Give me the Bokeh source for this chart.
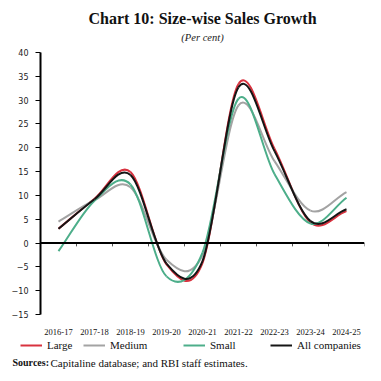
import numpy as np
from bokeh.plotting import figure
from bokeh.layouts import column
from bokeh.models import (Range1d, FactorRange, Span, Legend,
                          LegendItem, Title, Label, FixedTicker)
from bokeh.embed import file_html
from bokeh.resources import INLINE

# ---- data (per cent) ----
years = ["2016-17", "2017-18", "2018-19", "2019-20", "2020-21",
         "2021-22", "2022-23", "2023-24", "2024-25"]
large = [3.0, 9.3, 14.9, -4.5, -4.2, 33.4, 19.8, 4.3, 6.7]
medium = [4.5, 9.0, 11.7, -3.5, -2.5, 28.9, 17.2, 6.8, 10.7]
small = [-1.7, 8.9, 12.3, -7.0, -2.0, 30.3, 14.5, 4.1, 9.5]
all_companies = [3.0, 9.2, 14.3, -4.3, -3.8, 32.7, 19.3, 4.6, 7.1]
y_ticks = [-15, -10, -5, 0, 5, 10, 15, 20, 25, 30, 35, 40]

series_names = ["Large", "Medium", "Small", "All companies"]
series_values = [large, medium, small, all_companies]
series_colors = ["#D8323F", "#A3A3A3", "#4DAE8A", "#151515"]
legend_x = [20, 83, 183, 270]

W = 381
H1 = 337
H2 = 381 - H1

# ---------------- main chart ----------------
p = figure(width=W, height=H1, output_backend="svg", toolbar_location=None,
           x_range=FactorRange(factors=years), y_range=Range1d(y_ticks[0], y_ticks[-1]),
           min_border_left=40, min_border_right=17,
           min_border_top=52, min_border_bottom=H1 - 316,
           title="Chart 10: Size-wise Sales Growth")
p.frame_align = False
p.outline_line_color = None
p.grid.visible = False
p.background_fill_color = "white"
p.border_fill_color = "white"

p.title.align = "center"
p.title.text_font = "Liberation Serif"
p.title.text_font_style = "bold"
p.title.text_font_size = "16px"
p.title.text_color = "#111"
p.title.standoff = -12
p.add_layout(Title(text="(Per cent)", align="center", text_font="Liberation Serif",
                   text_font_style="italic", text_font_size="10.5px",
                   text_color="#222", standoff=19), "above")

# y axis
ya = p.yaxis[0]
ya.ticker = FixedTicker(ticks=y_ticks)
ya.axis_line_width = 2
ya.axis_line_color = "black"
ya.major_tick_out = 5
ya.major_tick_in = 0
ya.minor_tick_out = 0
ya.minor_tick_in = 0
ya.major_tick_line_color = "black"
ya.major_label_standoff = 7
ya.major_label_text_font = "DejaVu Sans"
ya.major_label_text_font_size = "8px"
ya.major_label_text_color = "#222"

# categorical x axis: labels only
xa = p.xaxis[0]
xa.axis_line_color = None
xa.major_tick_line_color = None
xa.major_tick_out = 0
xa.major_tick_in = 0
xa.major_label_standoff = 14
xa.major_label_text_font = "Liberation Serif"
xa.major_label_text_font_size = "8.5px"
xa.major_label_text_color = "#111"

# zero line and category separator ticks on it
p.add_layout(Span(location=0, dimension="width", line_color="black", line_width=2))
bounds = list(range(1, len(years) + 1))
p.segment(x0=bounds, y0=[0] * len(bounds), x1=bounds, y1=[-0.7] * len(bounds),
          line_color="#555", line_width=1)


def smooth_segments(vals):
    n = len(vals)
    xs = [i + 0.5 for i in range(n)]
    m = []
    for i in range(n):
        if i == 0:
            m.append(vals[1] - vals[0])
        elif i == n - 1:
            m.append(vals[-1] - vals[-2])
        else:
            m.append((vals[i + 1] - vals[i - 1]) / 2)
    return dict(
        x0=xs[:-1], y0=vals[:-1], x1=xs[1:], y1=vals[1:],
        cx0=[x + 1 / 3 for x in xs[:-1]],
        cy0=[v + mm / 3 for v, mm in zip(vals[:-1], m[:-1])],
        cx1=[x - 1 / 3 for x in xs[1:]],
        cy1=[v - mm / 3 for v, mm in zip(vals[1:], m[1:])],
    )


for name, vals, col in zip(series_names, series_values, series_colors):
    p.bezier(source=smooth_segments(vals), x0="x0", y0="y0", x1="x1", y1="y1",
             cx0="cx0", cy0="cy0", cx1="cx1", cy1="cy1",
             line_color=col, line_width=2)

# ---------------- legend + source strip ----------------
p2 = figure(width=W, height=H2, output_backend="svg", toolbar_location=None,
            x_range=Range1d(0, W), y_range=Range1d(0, H2),
            min_border_left=0, min_border_right=0, min_border_top=0,
            min_border_bottom=0, x_axis_location=None, y_axis_location=None)
p2.frame_align = False
p2.outline_line_color = None
p2.grid.visible = False
p2.background_fill_color = "white"
p2.border_fill_color = "white"

for name, col, lx in zip(series_names, series_colors, legend_x):
    r = p2.line(x=np.array([0.0, 0.0]), y=np.array([np.nan, np.nan]),
                line_color=col, line_width=2)
    lg = Legend(items=[LegendItem(label=name, renderers=[r])],
                orientation="horizontal", location=(lx, H2 - 14))
    lg.border_line_color = None
    lg.background_fill_alpha = 0
    lg.padding = 0
    lg.margin = 0
    lg.spacing = 0
    lg.glyph_width = 22
    lg.glyph_height = 12
    lg.label_height = 12
    lg.label_standoff = 5
    lg.label_text_font = "Liberation Serif"
    lg.label_text_font_size = "11px"
    lg.label_text_color = "#111"
    p2.add_layout(lg)

p2.add_layout(Label(x=12, y=H2 - 25, x_units="screen", y_units="screen",
                    text="Sources:", text_align="left", text_baseline="middle",
                    text_font="Liberation Serif", text_font_style="bold",
                    text_font_size="10px", text_color="#111"))
p2.add_layout(Label(x=50, y=H2 - 25, x_units="screen", y_units="screen",
                    text="Capitaline database; and RBI staff estimates.",
                    text_align="left", text_baseline="middle",
                    text_font="Liberation Serif", text_font_size="11px",
                    text_color="#111"))

layout = column(p, p2, spacing=0)
open("out.html", "w").write(file_html(layout, INLINE))
